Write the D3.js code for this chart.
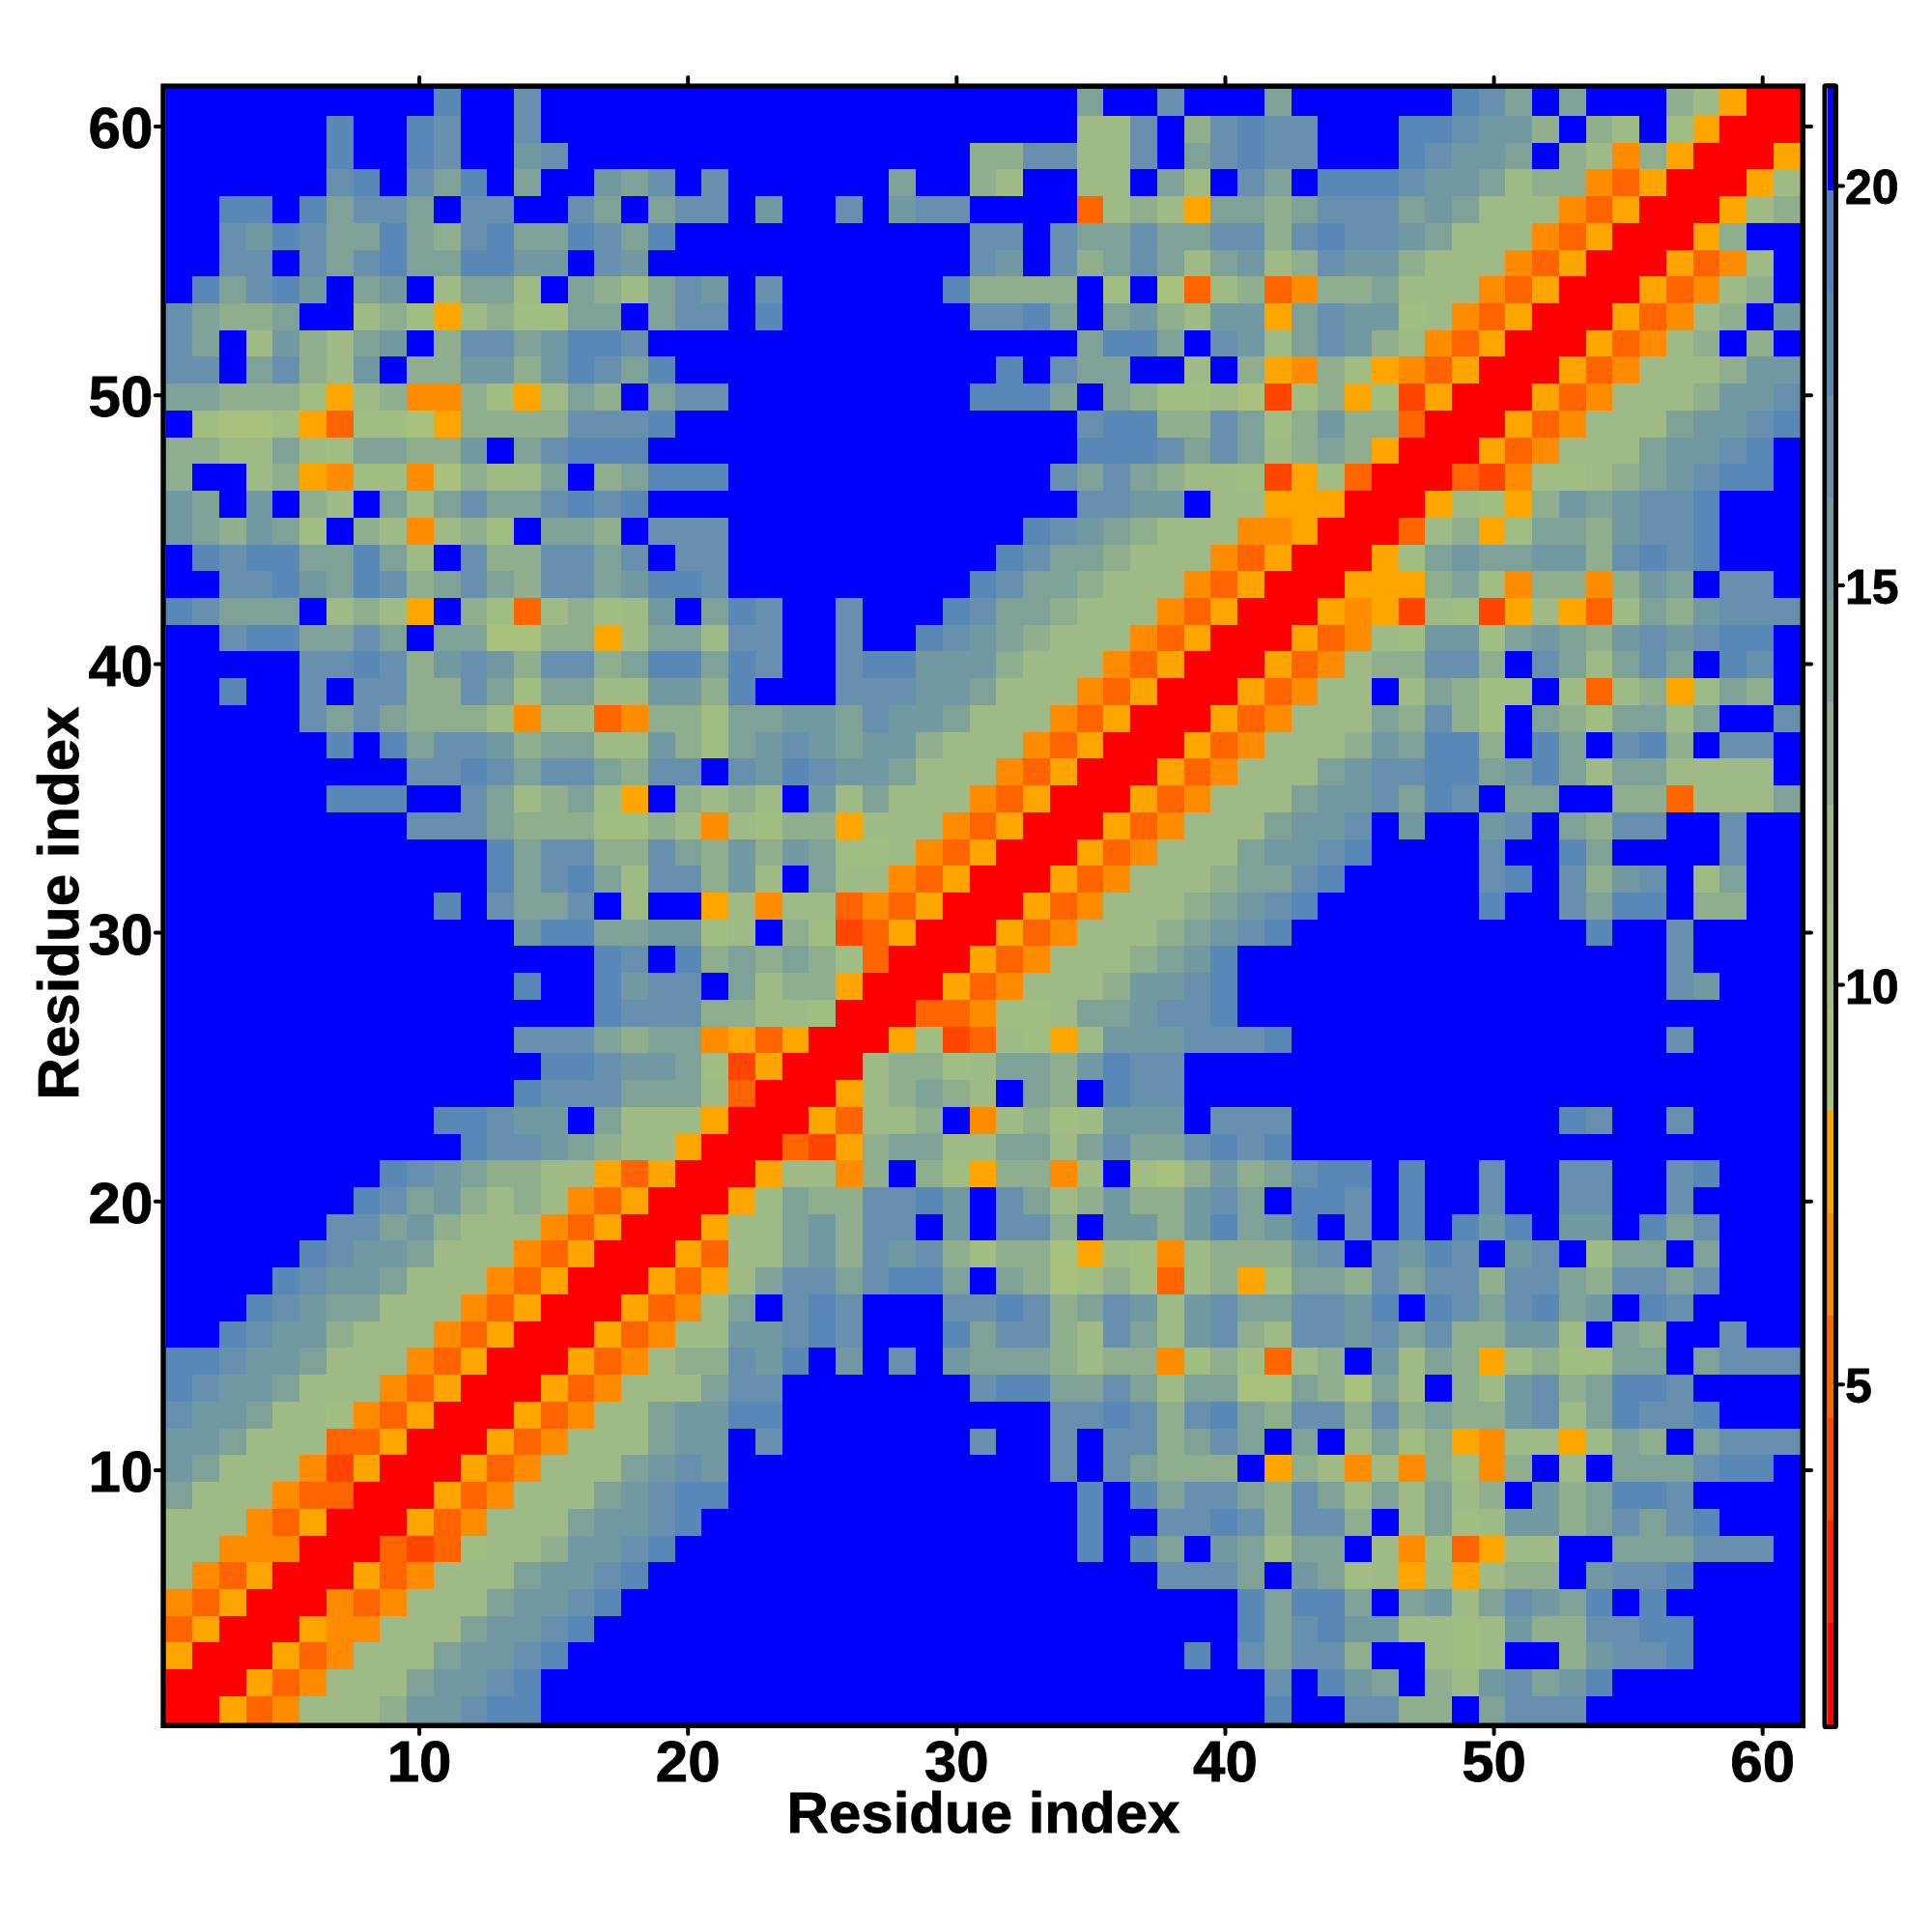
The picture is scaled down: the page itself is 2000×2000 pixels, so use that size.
<!DOCTYPE html>
<html><head><meta charset="utf-8">
<script src="https://cdn.jsdelivr.net/npm/d3@7"></script>
<style>html,body{margin:0;background:#fff}svg{display:block}text{font-family:"Liberation Sans",Arial,sans-serif;font-weight:bold;fill:#000}</style>
</head><body><svg id="c" width="2000" height="2000"></svg>
<script>
// One hex code per cell, from residue 61 (top row) down to residue 1.
// Each code is the index of the colour-key band the cell's value falls in.
const rows = [
"ffffffffffdffcffffff ffffffffffffffaffcfff affffffdcafafff98500",
"ffffffdffdcffcffffff ffffffffffffff88cf9cd ccfffddcbb9f98f75000",
"ffffffdffdcffbcfffff ffffffffff99cc88cfacd ccfffdcbbaf984950005",
"ffffffcdfcadfaffbacf cffffffaff98ff88fa8fc afdddcbba89943500058",
"ffddfdaccafccffcafac cfbffcfbccffff38985aa 9acccaba888435000589",
"ffcbdcaada9cdaadcadf ffffffffffccfcaacaacc 9cdccba88843500059ff",
"ffccfcacdaaddbbfcbff ffffffffffcbfc9aca8ab 89cbb98884350005348f",
"fdacdbfabf8aa8fa98ac bfcffffffd9999f7f6389 3499a88843500053489f",
"ca99aff89758977aafac cfdfffffffccdafab98bb 5acbb7843500053489fb",
"caf8b98abf9ccabddcff ffffffffffffffaddafcb 8acb9843500053489f9f",
"ccfac98bf99bb9bdcadf fffffffffffdfcaaff8f9 549754350005348889bb",
"aa9997589449758a9fac cfffffffffdddafa97786 27957250005348889bbc",
"f76675377659999cccdf ffffffffffffffcdd99ca 79b993000534888abbcd",
"9988a87aa99bfacdddff ffffffffffffffdddcaca 89a95000534888abbcdf",
"9ff89547746988af9add dffffffffffffcaca9887 25730003247789abcddf",
"bafbf98fa8acaacdcdff ffffffffffffffccbbf88 55500058759babccdfff",
"ba9ba7f984897faa9fcc cfffffffffffdcba98884 4500038957aa9bccdfff",
"fdcddaada8fc99ccacfc cffffffffffdcaa988843 500057abaabb9cdcdfff",
"ffccdbadc9aca9ccabdd cfffffffffdcaa9888435 0005559a749949bafccf",
"dcaaaf8985f9738978bf adcffcfffdcaa98884350 00545287258538a9bccc",
"ffcddaacafaa669958aa 8ccffcffdcba988843500 053487bb7aba9bcbcddf",
"fffffccdc9bcb9cc9add adcffcddbbb9888435000 534899cc9fca8acafdcf",
"ffdffcfcc99ca7aa88bb 9dfffcccbba8884350005 3488f8a977f838958a9f",
"fffffcaca99984883499 7aabbacbba88843500053 4888a9c97fa97aa8affc",
"ffffffdfdaccb9aa88b9 7abcbabb9888435000534 8889badd9fdafcd9fccf",
"fffffffffccdcacca9cc fcbdcbba8884350005348 88abccddabda8aa8888f",
"ffffffdddffca89a85f9 898fb8a88843500053488 8abbcadcfaaff993888a",
"fffffffffccca9997798 487995888435000534888 abbcfbffbcfa9ccffcff",
"ffffffffffffdacc99ca 9b9ba778435000534888a bbcdffffcffdaffffcff",
"ffffffffffffdacda8cc 9b8fa884350005348889a acdfffffcdfc9bcf8aff",
"ffffffffffdfcaacf8ff 5848834350005348889ab cdffffffdffcaddf99ff",
"fffffffffffffbddaabb 78f972350005348889abc dfffffffffffdffcffff",
"ffffffffffffffffdcfd 9a9a9730005348889abdf fffffffffffffffcffff",
"fffffffffffffdffdbcc fa89950005348889bbcdf fffffffffffffffcbfff",
"ffffffffffffffffdccc 99887000334778aabccdf ffffffffffffffffffff",
"fffffffffffffccca9aa 453500057238758bbbccc dffffffffffffffcffff",
"ffffffffffffffddcbba 72500089978aa9bdccfff ffffffffffffffffffff",
"fffffffffffffdcccaaa 83000589a98fa9fdccfff ffffffffffffffffffff",
"ffffffffffddcbbfa888 500053889f48978bbbfcc cffffffffffdcffcffff",
"fffffffffffdccba9885 0003259aa88aa8acaacdc dfffffffffffffffffff",
"ffffffffdcba99885350 0058849f9759948f769b9 acddfdffcffccffcdfff",
"fffffffdcab989843500 058a99ccdbfca89b99bca fddcfdffcffccffcffff",
"ffffffccab9888435000 588ab9ccfbfcc9fbb9bda bdfcfdfdbdfbbfdacfff",
"fffffdcbba8884350005 388ab9cbc979965874899 9bcfcbdcfbcf8aafafff",
"ffffdcbba88843500053 58accacddafa967973895 7aa9cacc9cca9ccacfff",
"fffdcbaa888435000534 8afcdcfffccdc9acb8bca accbdfdcacdabfdcffff",
"ffdcbb98884350005348 8bbcdcfffdacc98ca8bc9 8ccbcac99bb8fa9ffcff",
"ddcbba88843500053489 9cbdfbfcfbaaa98994797 389fb8a958977aafaccc",
"dcbba888435000534888 accfffffffcddaaca8aa6 6a96a8f98bc9addcffff",
"cbba88743500053488ab bddffffffffffccdc9cda 9cc9c9a99bc8adccdfff",
"bba888335000534888ab bfcfffffffcffcfcc9aca faf8a79548858a9faccc",
"ba888425000534888abc bffffffffffffcfca999f 5984849749f8faaacddf",
"a888433000534888abcd dfffffffffffffdfdacca 9ca8a8a89fb9addcffff",
"888435000534888abbcd ffffffffffffffdffccdc 9cc9f8a78bb9acacdfff",
"884440003237889bbcdf ffffffffffffffdfdafba 8aaf8473588ffaaacccf",
"8435000534888abbcdff fffffffffffffffffccca fba78585899fbccdffff",
"435000434888abbcdfff ffffffffffffffffffffd addafab8acbadfdfffff",
"35000544888abbcdffff ffffffffffffffffffffd acdbb8878b99ccddffff",
"5000534888abbcdfffff ffffffffffffffffffdfc acc9ff878ff9bccdffff",
"000534888abbcdffffff fffffffffffffffffffff cfdbaf98bcabdfffffff",
"005348889bbcddffffff fffffffffffffffffffff dffcc99facccffffffff"
];
const bandColors = ["#ff0000","#ff2300","#ff4500","#ff6400","#ff8c00","#ffa500",
  "#a8c27e","#a2bd82","#9fba85","#8fae8d","#7ea198","#7299a2","#6690ae","#5a88b6","#5080be","#0000ff"];
const residues = d3.range(1, 62);
const residueTicks = [10, 20, 30, 40, 50, 60];
const keyTicks = [5, 10, 15, 20];
const keyMin = 0.74, keyMax = 21.22;
const axisTitle = "Residue index";

const cells = rows.map(r => r.replace(/ /g, ""));
cells.forEach((r, i) => { if (r.length !== 61) throw new Error("row " + i + " has " + r.length); });
if (cells.length !== 61) throw new Error("rows " + cells.length);

const svg = d3.select("#c");
const L = 171.5, R = 1863.6, T = 92.2, B = 1783.6;
const x = d3.scaleBand().domain(residues).range([L, R]);
const y = d3.scaleBand().domain(residues.slice().reverse()).range([T, B]);
const xTick = d3.scaleLinear().domain([0.576, 61.417]).range([L, R]);
const yTick = d3.scaleLinear().domain([0.579, 61.377]).range([B, T]);
const colour = c => bandColors[parseInt(c, 16)];

const data = [];
cells.forEach((r, i) => [...r].forEach((c, j) => data.push({row: residues[60 - i], col: residues[j], code: c})));
svg.append("g").attr("shape-rendering", "crispEdges").selectAll("rect").data(data).join("rect")
  .attr("x", d => x(d.col)).attr("y", d => y(d.row))
  .attr("width", x.bandwidth() + 0.6).attr("height", y.bandwidth() + 0.6)
  .attr("fill", d => colour(d.code));

svg.append("rect").attr("x", 169.1).attr("y", 89.2).attr("width", 1697.2).attr("height", 1697.1)
  .attr("fill", "none").attr("stroke", "#000").attr("stroke-width", 5.5);

function styleAxis(g, fs, shift) {
  g.select(".domain").remove();
  g.selectAll("line").attr("stroke", "#000").attr("stroke-width", 4).attr("stroke-linecap", "round");
  g.selectAll("text").style("font-size", fs + "px").style("stroke", "#000").style("stroke-width", "0.8px")
    .attr("transform", shift ? "translate(0," + shift + ")" : null);
}
svg.append("g").attr("transform", "translate(0,1789)")
  .call(d3.axisBottom(xTick).tickValues(residueTicks).tickSize(6).tickSizeOuter(0).tickPadding(6))
  .call(g => styleAxis(g, 60));
svg.append("g").attr("transform", "translate(0,86)")
  .call(d3.axisTop(xTick).tickValues(residueTicks).tickSize(6).tickFormat(""))
  .call(g => styleAxis(g, 60));
svg.append("g").attr("transform", "translate(166.8,0)")
  .call(d3.axisLeft(yTick).tickValues(residueTicks).tickSize(6).tickPadding(2.5))
  .call(g => styleAxis(g, 60, 3));
svg.append("g").attr("transform", "translate(1869,0)")
  .call(d3.axisRight(yTick).tickValues(residueTicks).tickSize(6).tickFormat(""))
  .call(g => styleAxis(g, 60));

svg.append("text").attr("x", 1018).attr("y", 1897).attr("text-anchor", "middle").style("font-size", "60px").style("stroke", "#000").style("stroke-width", "0.8px").text(axisTitle);
svg.append("text").attr("transform", "translate(81,935) rotate(-90)").attr("text-anchor", "middle").style("font-size", "60px").style("stroke", "#000").style("stroke-width", "0.8px").text(axisTitle);

// colour key
const keyY = d3.scaleLinear().domain([keyMin, keyMax]).range([1785, 91]);
const bandW = (keyMax - keyMin) / bandColors.length;
svg.append("g").attr("shape-rendering", "crispEdges").selectAll("rect").data(bandColors).join("rect")
  .attr("x", 1891.5).attr("width", 6.5)
  .attr("y", (d, i) => keyY(keyMin + bandW * (i + 1)))
  .attr("height", (d, i) => keyY(keyMin + bandW * i) - keyY(keyMin + bandW * (i + 1)) + 0.5)
  .attr("fill", d => d);
svg.append("rect").attr("x", 1889).attr("y", 88.7).attr("width", 11.5).attr("height", 1698.8)
  .attr("fill", "none").attr("stroke", "#000").attr("stroke-width", 5).attr("rx", 1);
svg.append("g").attr("transform", "translate(1903,0)")
  .call(d3.axisRight(keyY).tickValues(keyTicks).tickSize(5).tickPadding(2))
  .call(g => styleAxis(g, 50, 3));
</script>
</body></html>
